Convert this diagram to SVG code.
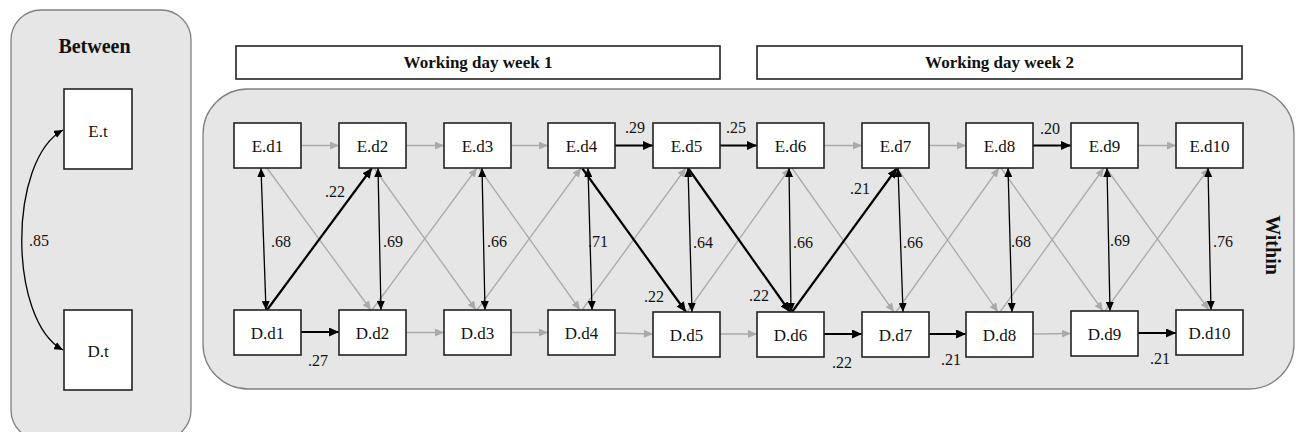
<svg xmlns="http://www.w3.org/2000/svg" width="1296" height="432" viewBox="0 0 1296 432">
<defs>
<marker id="hb" markerUnits="userSpaceOnUse" markerWidth="11" markerHeight="9" refX="10" refY="4.5" orient="auto"><path d="M0,0 L10,4.5 L0,9 z" fill="#000"/></marker>
<marker id="ht" markerUnits="userSpaceOnUse" markerWidth="10" markerHeight="8" refX="9" refY="4" orient="auto-start-reverse"><path d="M0,0 L9,4 L0,8 z" fill="#000"/></marker>
<marker id="hg" markerUnits="userSpaceOnUse" markerWidth="10" markerHeight="8" refX="9" refY="4" orient="auto"><path d="M0,0 L9,4 L0,8 z" fill="#aaaaaa"/></marker>
</defs>
<style>
.panel{fill:#e6e6e6;stroke:#808080;stroke-width:1.3}
.box{fill:#fff;stroke:#222;stroke-width:1.6}
.nt{font-family:"Liberation Serif","Times New Roman",serif;font-size:17px;fill:#111;text-anchor:middle}
.lb{font-family:"Liberation Serif","Times New Roman",serif;font-size:16px;fill:#111}
.tt{font-family:"Liberation Serif","Times New Roman",serif;font-weight:bold;fill:#111;text-anchor:middle}
.g{stroke:#aaaaaa;stroke-width:1.3;fill:none;marker-end:url(#hg)}
.b{stroke:#000;stroke-width:2.2;fill:none;marker-end:url(#hb)}
.v{stroke:#000;stroke-width:1.3;fill:none;marker-start:url(#ht);marker-end:url(#ht)}
</style>
<g id="between-panel">
<rect class="panel" x="11" y="10" width="180" height="430" rx="30"/>
<text class="tt" x="94.5" y="53" font-size="20">Between</text>
</g>
<g id="within-panel">
<rect class="panel" x="203" y="89" width="1091" height="300" rx="45"/>
<text class="tt" font-size="20" transform="translate(1266,245) rotate(90)">Within</text>
</g>
<g id="header-week1">
<rect class="box" x="236" y="46" width="484" height="33"/>
<text class="tt" x="478" y="68" font-size="17">Working day week 1</text>
</g>
<g id="header-week2">
<rect class="box" x="757" y="46" width="485" height="33"/>
<text class="tt" x="999.5" y="68" font-size="17">Working day week 2</text>
</g>
<g id="connectors">
<path class="v" d="M63,130 C8,160 8,320 63,350"/>
<text class="lb" x="29" y="246">.85</text>
<line class="g" x1="301" y1="145.5" x2="339" y2="145.5"/>
<line class="g" x1="406" y1="145.5" x2="444" y2="145.5"/>
<line class="g" x1="511" y1="145.5" x2="548" y2="145.5"/>
<line class="b" x1="615" y1="145.5" x2="653" y2="145.5"/>
<line class="b" x1="720" y1="145.5" x2="757" y2="145.5"/>
<line class="g" x1="824" y1="145.5" x2="862" y2="145.5"/>
<line class="g" x1="929" y1="145.5" x2="966" y2="145.5"/>
<line class="b" x1="1033" y1="145.5" x2="1071" y2="145.5"/>
<line class="g" x1="1138" y1="145.5" x2="1176" y2="145.5"/>
<text class="lb" x="625" y="133">.29</text>
<text class="lb" x="726" y="133">.25</text>
<text class="lb" x="1040" y="134">.20</text>
<line class="b" x1="301" y1="332" x2="339" y2="332"/>
<line class="g" x1="406" y1="332.5" x2="444" y2="332.5"/>
<line class="g" x1="511" y1="332.5" x2="548" y2="332.5"/>
<line class="g" x1="615" y1="333" x2="653" y2="334"/>
<line class="g" x1="720" y1="334" x2="757" y2="334"/>
<line class="b" x1="824" y1="334" x2="862" y2="334"/>
<line class="b" x1="929" y1="334" x2="966" y2="334"/>
<line class="g" x1="1033" y1="334" x2="1071" y2="333.5"/>
<line class="b" x1="1138" y1="333" x2="1176" y2="333"/>
<text class="lb" x="308" y="366">.27</text>
<text class="lb" x="832" y="368">.22</text>
<text class="lb" x="941" y="365">.21</text>
<text class="lb" x="1150" y="364">.21</text>
<line class="g" x1="267" y1="168" x2="371" y2="310"/>
<line class="g" x1="374" y1="168" x2="476" y2="310"/>
<line class="g" x1="372" y1="310" x2="477" y2="168"/>
<line class="g" x1="479" y1="168" x2="580" y2="310"/>
<line class="g" x1="477" y1="310" x2="581" y2="168"/>
<line class="g" x1="582" y1="310" x2="686" y2="168"/>
<line class="g" x1="687" y1="312" x2="790" y2="168"/>
<line class="g" x1="792" y1="168" x2="894" y2="312"/>
<line class="g" x1="896" y1="312" x2="999" y2="168"/>
<line class="g" x1="897" y1="168" x2="998" y2="312"/>
<line class="g" x1="1001" y1="168" x2="1103" y2="311"/>
<line class="g" x1="1000" y1="312" x2="1104" y2="168"/>
<line class="g" x1="1106" y1="168" x2="1209" y2="310"/>
<line class="g" x1="1105" y1="311" x2="1209" y2="168"/>
<line class="b" x1="267" y1="310" x2="372" y2="168"/>
<line class="b" x1="582" y1="168" x2="686" y2="312"/>
<line class="b" x1="688" y1="168" x2="790" y2="312"/>
<line class="b" x1="792" y1="312" x2="897" y2="168"/>
<text class="lb" x="325" y="197">.22</text>
<text class="lb" x="644" y="302">.22</text>
<text class="lb" x="749" y="301">.22</text>
<text class="lb" x="850" y="194">.21</text>
<line class="v" x1="261" y1="168" x2="266" y2="310"/>
<line class="v" x1="378" y1="168" x2="381" y2="310"/>
<line class="v" x1="482" y1="168" x2="485" y2="310"/>
<line class="v" x1="588" y1="168" x2="592" y2="310"/>
<line class="v" x1="688" y1="168" x2="692" y2="312"/>
<line class="v" x1="789" y1="168" x2="791" y2="312"/>
<line class="v" x1="898" y1="168" x2="903" y2="312"/>
<line class="v" x1="1008" y1="168" x2="1012" y2="312"/>
<line class="v" x1="1107" y1="168" x2="1110" y2="311"/>
<line class="v" x1="1208" y1="168" x2="1211" y2="310"/>
<text class="lb" x="271" y="247">.68</text>
<text class="lb" x="383" y="247">.69</text>
<text class="lb" x="487" y="247">.66</text>
<text class="lb" x="588" y="247">.71</text>
<text class="lb" x="693" y="248">.64</text>
<text class="lb" x="793" y="248">.66</text>
<text class="lb" x="903" y="248">.66</text>
<text class="lb" x="1011" y="247">.68</text>
<text class="lb" x="1110" y="246">.69</text>
<text class="lb" x="1213" y="247">.76</text>
</g>
<g id="E.t"><rect class="box" x="64" y="89" width="68" height="80"/><text class="nt" x="98" y="137">E.t</text></g>
<g id="D.t"><rect class="box" x="64" y="310" width="68" height="80"/><text class="nt" x="98" y="357">D.t</text></g>
<g id="E.d1"><rect class="box" x="234" y="123" width="67" height="45"/><text class="nt" x="267.5" y="152">E.d1</text></g>
<g id="E.d2"><rect class="box" x="339" y="123" width="67" height="45"/><text class="nt" x="372.5" y="152">E.d2</text></g>
<g id="E.d3"><rect class="box" x="444" y="123" width="67" height="45"/><text class="nt" x="477.5" y="152">E.d3</text></g>
<g id="E.d4"><rect class="box" x="548" y="123" width="67" height="45"/><text class="nt" x="581.5" y="152">E.d4</text></g>
<g id="E.d5"><rect class="box" x="653" y="123" width="67" height="45"/><text class="nt" x="686.5" y="152">E.d5</text></g>
<g id="E.d6"><rect class="box" x="757" y="123" width="67" height="45"/><text class="nt" x="790.5" y="152">E.d6</text></g>
<g id="E.d7"><rect class="box" x="862" y="123" width="67" height="45"/><text class="nt" x="895.5" y="152">E.d7</text></g>
<g id="E.d8"><rect class="box" x="966" y="123" width="67" height="45"/><text class="nt" x="999.5" y="152">E.d8</text></g>
<g id="E.d9"><rect class="box" x="1071" y="123" width="67" height="45"/><text class="nt" x="1104.5" y="152">E.d9</text></g>
<g id="E.d10"><rect class="box" x="1176" y="123" width="67" height="45"/><text class="nt" x="1209.5" y="152">E.d10</text></g>
<g id="D.d1"><rect class="box" x="234" y="310" width="67" height="45"/><text class="nt" x="267.5" y="339">D.d1</text></g>
<g id="D.d2"><rect class="box" x="339" y="310" width="67" height="45"/><text class="nt" x="372.5" y="339">D.d2</text></g>
<g id="D.d3"><rect class="box" x="444" y="310" width="67" height="45"/><text class="nt" x="477.5" y="339">D.d3</text></g>
<g id="D.d4"><rect class="box" x="548" y="310" width="67" height="45"/><text class="nt" x="581.5" y="339">D.d4</text></g>
<g id="D.d5"><rect class="box" x="653" y="312" width="67" height="45"/><text class="nt" x="686.5" y="341">D.d5</text></g>
<g id="D.d6"><rect class="box" x="757" y="312" width="67" height="45"/><text class="nt" x="790.5" y="341">D.d6</text></g>
<g id="D.d7"><rect class="box" x="862" y="312" width="67" height="45"/><text class="nt" x="895.5" y="341">D.d7</text></g>
<g id="D.d8"><rect class="box" x="966" y="312" width="67" height="45"/><text class="nt" x="999.5" y="341">D.d8</text></g>
<g id="D.d9"><rect class="box" x="1071" y="311" width="67" height="45"/><text class="nt" x="1104.5" y="340">D.d9</text></g>
<g id="D.d10"><rect class="box" x="1176" y="310" width="67" height="45"/><text class="nt" x="1209.5" y="339">D.d10</text></g>
</svg>
